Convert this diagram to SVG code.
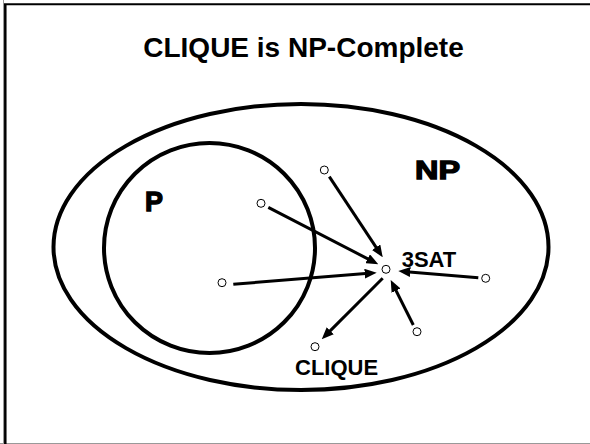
<svg xmlns="http://www.w3.org/2000/svg" width="590" height="444" viewBox="0 0 590 444">
<defs>
<style>
.set{fill:none;stroke:#000;stroke-width:4}
.node{fill:#fff;stroke:#000;stroke-width:1}
.lbl{font-family:"Liberation Sans",Arial,sans-serif;font-weight:bold;font-size:22px;fill:#000}
.heavy{font-family:"Liberation Sans",Arial,sans-serif;font-weight:bold;fill:#000;stroke:#000;stroke-width:1.3}
.edge{stroke:#000;stroke-width:3;fill:none;marker-end:url(#ah)}
</style>
<marker id="ah" markerUnits="userSpaceOnUse" markerWidth="12" markerHeight="10" refX="4" refY="5" orient="auto">
<path d="M0,0 L12,5 L0,10 z" fill="#000"/>
</marker>
</defs>
<rect width="590" height="444" fill="#fff"/>
<g id="frame">
<line x1="3.5" y1="0" x2="3.5" y2="444" stroke="#999" stroke-width="1"/>
<line x1="0" y1="443.5" x2="590" y2="443.5" stroke="#999" stroke-width="1"/>
<line x1="4" y1="4.3" x2="590" y2="4.3" stroke="#000" stroke-width="2"/>
<line x1="5.3" y1="4" x2="5.3" y2="444" stroke="#000" stroke-width="2.5"/>
</g>
<text id="title" x="303.5" y="57" text-anchor="middle" font-family="'Liberation Sans',Arial,sans-serif" font-weight="bold" font-size="28">CLIQUE is NP-Complete</text>
<g id="NP">
<ellipse class="set" cx="301" cy="247" rx="247.5" ry="143"/>
<text class="heavy" x="415" y="179" font-size="26" textLength="45" lengthAdjust="spacingAndGlyphs">NP</text>
</g>
<g id="P">
<ellipse class="set" cx="209.5" cy="248" rx="105.5" ry="105"/>
<text class="heavy" x="145" y="211" font-size="28" textLength="18" lengthAdjust="spacingAndGlyphs">P</text>
</g>
<g id="connectors">
<line class="edge" x1="268.3" y1="207.3" x2="371.2" y2="260.6"/>
<line class="edge" x1="329.3" y1="176.7" x2="378.3" y2="250.6"/>
<line class="edge" x1="233.3" y1="284.3" x2="368.7" y2="273.3"/>
<line class="edge" x1="478.3" y1="277.7" x2="406.3" y2="271.7"/>
<line class="edge" x1="413.3" y1="325" x2="394.3" y2="287.1"/>
<line class="edge" x1="382.7" y1="278.3" x2="327.4" y2="333.6"/>
</g>
<g id="n1"><circle class="node" cx="261" cy="203.3" r="4"/></g>
<g id="n2"><circle class="node" cx="324.3" cy="170" r="4"/></g>
<g id="n3"><circle class="node" cx="222" cy="282.7" r="4"/></g>
<g id="n3sat"><circle class="node" cx="386" cy="269.3" r="4"/><text class="lbl" x="401.7" y="266.5">3SAT</text></g>
<g id="n5"><circle class="node" cx="485.7" cy="278.3" r="4"/></g>
<g id="n6"><circle class="node" cx="417" cy="331.7" r="4"/></g>
<g id="nclique"><circle class="node" cx="315" cy="346.7" r="4"/><text class="lbl" x="295" y="375">CLIQUE</text></g>
</svg>
